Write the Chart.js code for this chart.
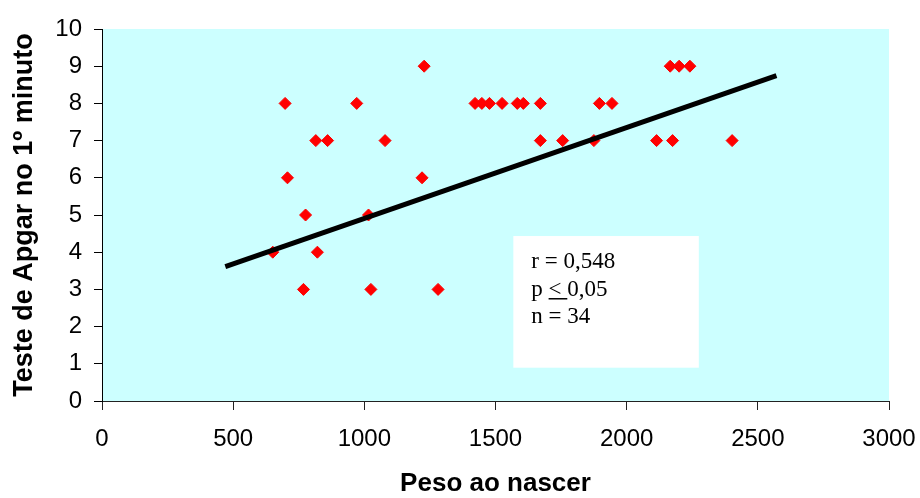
<!DOCTYPE html>
<html>
<head>
<meta charset="utf-8">
<script src="https://cdn.jsdelivr.net/npm/chart.js@4.4.1/dist/chart.umd.min.js"></script>
<style>
  html, body { margin: 0; padding: 0; background: #fff; }
  #wrap { width: 920px; height: 498px; position: relative; }
</style>
</head>
<body>
<div id="wrap"><canvas id="grafico"></canvas></div>
<script>
// Peso ao nascer (g) e Apgar no 1º minuto
const pesos = [
  1228, 2166, 2200, 2241,
  698, 971, 1422, 1448, 1477, 1525, 1583, 1606, 1671, 1896, 1944,
  815, 860, 1079, 1671, 1756, 1875, 2114, 2175, 2402,
  707, 1220,
  776, 1016,
  651, 821,
  768, 1025, 1281
];
const apgar = [
  9, 9, 9, 9,
  8, 8, 8, 8, 8, 8, 8, 8, 8, 8, 8,
  7, 7, 7, 7, 7, 7, 7, 7, 7,
  6, 6,
  5, 5,
  4, 4,
  3, 3, 3
];

// Reta de regressão (extremos)
const retaX = [470, 2571];
const retaY = [3.61, 8.745];

// Eixos
const xTicks = [0, 500, 1000, 1500, 2000, 2500, 3000];
const yTicks = [0, 1, 2, 3, 4, 5, 6, 7, 8, 9, 10];

// Caixa com as estatísticas
const estatLinhas = ["r = 0,548", "p ", "n = 34"];
const caixaX = [1568, 2275];
const caixaY = [0.895, 4.435];

const pontos = pesos.map((p, i) => ({ x: p, y: apgar[i] }));
const reta = retaX.map((v, i) => ({ x: v, y: retaY[i] }));

// Fundo da área do gráfico
const fundoPlugin = {
  id: "fundoArea",
  beforeDraw: (chart) => {
    const { ctx, chartArea } = chart;
    ctx.save();
    ctx.fillStyle = "#CCFFFF";
    ctx.fillRect(chartArea.left, chartArea.top,
      chartArea.right - chartArea.left, chartArea.bottom - chartArea.top);
    ctx.restore();
  },
};

// Caixa branca com r, p e n
const caixaPlugin = {
  id: "caixaEstat",
  beforeDatasetsDraw: (chart) => {
    const { ctx } = chart;
    const sx = chart.scales.x;
    const sy = chart.scales.y;
    const x0 = sx.getPixelForValue(caixaX[0]);
    const x1 = sx.getPixelForValue(caixaX[1]);
    const y0 = sy.getPixelForValue(caixaY[1]);
    const y1 = sy.getPixelForValue(caixaY[0]);
    ctx.save();
    ctx.fillStyle = "#FFFFFF";
    ctx.fillRect(x0, y0, x1 - x0, y1 - y0);

    ctx.fillStyle = "#000";
    ctx.font = "23px 'Liberation Serif', 'Times New Roman', serif";
    ctx.textBaseline = "alphabetic";
    ctx.textAlign = "left";
    const tx = x0 + 18;
    const by = y0 + 32;
    const passo = 27.5;
    ctx.fillText(estatLinhas[0], tx, by);
    // p <(sublinhado) 0,05
    ctx.fillText(estatLinhas[1], tx, by + passo);
    const wp = ctx.measureText(estatLinhas[1]).width;
    ctx.fillText("<", tx + wp, by + passo);
    const wl = ctx.measureText("< ").width;
    ctx.fillText("0,05", tx + wp + wl, by + passo);
    ctx.fillRect(tx + wp, by + passo + 2.5, wl, 1.5);
    ctx.fillText(estatLinhas[2], tx, by + passo * 2);
    ctx.restore();
  },
};

const fonteTicks = { family: "'Liberation Sans', Arial, sans-serif", size: 24 };
const fonteTituloX = { family: "'Liberation Sans', Arial, sans-serif", size: 26, weight: "bold", lineHeight: 1.1 };
const fonteTituloY = { family: "'Liberation Sans', Arial, sans-serif", size: 27, weight: "bold", lineHeight: 1.1 };

new Chart(document.getElementById("grafico"), {
  type: "scatter",
  data: {
    datasets: [
      {
        data: reta,
        showLine: true,
        borderColor: "#000000",
        borderWidth: 5,
        pointRadius: 0,
        order: 0,
      },
      {
        data: pontos,
        pointStyle: "rectRot",
        pointRadius: 6,
        backgroundColor: "#FF0000",
        borderColor: "#FF0000",
        borderWidth: 1,
        order: 1,
      },
    ],
  },
  options: {
    animation: false,
    responsive: true,
    maintainAspectRatio: false,
    layout: { padding: { left: 0, top: 29, right: 31, bottom: 0 } },
    plugins: {
      legend: { display: false },
      tooltip: { enabled: false },
    },
    scales: {
      x: {
        type: "linear",
        min: xTicks[0],
        max: xTicks[xTicks.length - 1],
        afterBuildTicks: (s) => { s.ticks = xTicks.map((v) => ({ value: v })); },
        afterFit: (s) => {
          s.height = 97;
          s.paddingLeft = 0;
          s.paddingRight = 0;
        },
        grid: { drawOnChartArea: false, drawTicks: true, tickLength: 9, tickColor: "#222", lineWidth: 1 },
        border: { display: true, color: "#222", width: 1 },
        ticks: { font: fonteTicks, color: "#000", padding: 15, maxRotation: 0, callback: (v) => String(v) },
        title: {
          display: true,
          text: "Peso ao nascer",
          font: fonteTituloX,
          color: "#000",
          padding: { top: 0, bottom: 0 },
        },
      },
      y: {
        type: "linear",
        min: yTicks[0],
        max: yTicks[yTicks.length - 1],
        afterBuildTicks: (s) => { s.ticks = yTicks.map((v) => ({ value: v })); },
        afterFit: (s) => {
          s.width = 102;
          s.paddingTop = 0;
          s.paddingBottom = 0;
        },
        grid: { drawOnChartArea: false, drawTicks: true, tickLength: 8, tickColor: "#000", lineWidth: 1 },
        border: { display: true, color: "#000", width: 1 },
        ticks: { font: fonteTicks, color: "#000", padding: 12, callback: (v) => String(v) },
        title: {
          display: true,
          text: "Teste de Apgar no 1º minuto",
          font: fonteTituloY,
          color: "#000",
          padding: { top: 10, bottom: 0 },
        },
      },
    },
  },
  plugins: [fundoPlugin, caixaPlugin],
});
</script>
</body>
</html>
